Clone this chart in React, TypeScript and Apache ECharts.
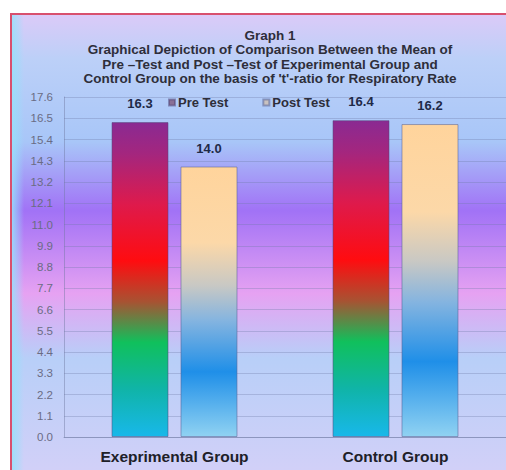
import React, { useEffect, useRef } from "react";
import * as echarts from "echarts";

const categories = ["Exeprimental Group", "Control Group"];
const preTest = [16.3, 16.4];
const postTest = [14.0, 16.2];
const seriesNames = ["Pre Test", "Post Test"];
const titleLines = [
  "Graph 1",
  "Graphical Depiction of Comparison Between the Mean of",
  "Pre \u2013Test and Post \u2013Test of Experimental Group and",
  "Control Group on the basis of 't'-ratio for Respiratory Rate",
];

const lg = (stops: [number, string][]) =>
  new echarts.graphic.LinearGradient(
    0, 0, 0, 1,
    stops.map(([offset, color]) => ({ offset, color }))
  );

export default function App() {
  const ref = useRef<HTMLDivElement>(null);
  useEffect(() => {
    if (!ref.current) return;
    const chart = echarts.init(ref.current, undefined, { renderer: "svg" });
    const preGrad = lg([
      [0, "#8a2a92"],
      [0.1, "#a4267e"],
      [0.26, "#de1a4c"],
      [0.44, "#ff0c10"],
      [0.57, "#a85232"],
      [0.7, "#10c05c"],
      [0.85, "#10b4a8"],
      [1, "#18b8ea"],
    ]);
    const postGrad = lg([
      [0, "#ffd49c"],
      [0.28, "#fcd8a8"],
      [0.44, "#c8c8c4"],
      [0.57, "#84b4e0"],
      [0.76, "#1f8fe8"],
      [1, "#90d2f2"],
    ]);
    const bgGrad = lg([
      [0, "#dccaf8"],
      [0.1, "#bcd0f8"],
      [0.28, "#a8c6f8"],
      [0.43, "#a172f6"],
      [0.61, "#e6a2f2"],
      [0.75, "#b8cff8"],
      [1, "#d2d0f8"],
    ]);
    const labelStyle = {
      show: true,
      position: "top",
      distance: 12,
      formatter: (p: any) => p.value.toFixed(1),
      fontFamily: "Liberation Sans",
      fontSize: 13,
      fontWeight: "bold",
      color: "#1f2a48",
    };
    chart.setOption({
      animation: false,
      backgroundColor: "#ffffff",
      graphic: [
        {
          type: "rect",
          z: -10,
          shape: { x: 10, y: 13, width: 500, height: 460 },
          style: { fill: bgGrad, stroke: "none", lineWidth: 0 },
          silent: true,
        },
        {
          type: "rect",
          z: -9,
          shape: { x: 12, y: 15, width: 12, height: 455 },
          style: {
            fill: new echarts.graphic.LinearGradient(0, 0, 1, 0, [
              { offset: 0, color: "rgba(150,225,250,0.85)" },
              { offset: 1, color: "rgba(150,225,250,0)" },
            ]),
            stroke: "none",
            lineWidth: 0,
          },
          silent: true,
        },
        {
          type: "line",
          z: -8,
          shape: { x1: 11, y1: 13, x2: 11, y2: 470 },
          style: { stroke: "#d8506e", lineWidth: 2 },
          silent: true,
        },
        {
          type: "line",
          z: -8,
          shape: { x1: 10, y1: 14, x2: 506, y2: 14 },
          style: { stroke: "#d8506e", lineWidth: 2 },
          silent: true,
        },
      ],
      title: {
        text: titleLines.join("\n"),
        left: 265,
        top: 23,
        textAlign: "center",
        textStyle: {
          fontFamily: "Liberation Sans",
          fontSize: 13.5,
          fontWeight: "bold",
          color: "#2e2e3a",
          lineHeight: 14.5,
        },
      },
      legend: {
        data: [
          { name: seriesNames[0], itemStyle: { color: "#8a7096" } },
          { name: seriesNames[1], itemStyle: { color: "#c9c2c0" } },
        ],
        left: 163,
        top: 91,
        icon: "rect",
        itemWidth: 6,
        itemHeight: 6,
        itemGap: 34,
        textStyle: {
          fontFamily: "Liberation Sans",
          fontSize: 13,
          fontWeight: "bold",
          color: "#2e2e3a",
          padding: [0, 0, 0, -2],
        },
      },
      grid: { left: 64, right: 0, top: 97, bottom: 33, containLabel: false },
      xAxis: {
        type: "category",
        data: categories,
        axisTick: { show: false },
        axisLine: { show: true, lineStyle: { color: "rgba(110,120,160,0.5)" } },
        axisLabel: {
          margin: 11,
          fontFamily: "Liberation Sans",
          fontSize: 15.5,
          fontWeight: "bold",
          color: "#202028",
        },
      },
      yAxis: {
        type: "value",
        min: 0,
        max: 17.6,
        interval: 1.1,
        axisLine: { show: true, lineStyle: { color: "rgba(110,120,160,0.45)" } },
        axisTick: { show: false },
        splitLine: { lineStyle: { color: "rgba(110,120,165,0.32)" } },
        axisLabel: {
          margin: 11,
          fontFamily: "Liberation Sans",
          fontSize: 11.5,
          color: "#6a6c84",
          formatter: (v: number) => v.toFixed(1),
        },
      },
      series: [
        {
          name: seriesNames[0],
          type: "bar",
          data: preTest,
          barWidth: 57,
          barGap: "21%",
          itemStyle: { color: preGrad, borderColor: "rgba(80,70,120,0.5)", borderWidth: 1 },
          label: labelStyle,
        },
        {
          name: seriesNames[1],
          type: "bar",
          data: postTest,
          barWidth: 57,
          itemStyle: { color: postGrad, borderColor: "rgba(90,100,150,0.55)", borderWidth: 1 },
          label: labelStyle,
        },
      ],
    });
    return () => chart.dispose();
  }, []);
  return (
    <div
      ref={ref}
      style={{ position: "fixed", left: 0, top: 0, width: 506, height: 470 }}
    />
  );
}
